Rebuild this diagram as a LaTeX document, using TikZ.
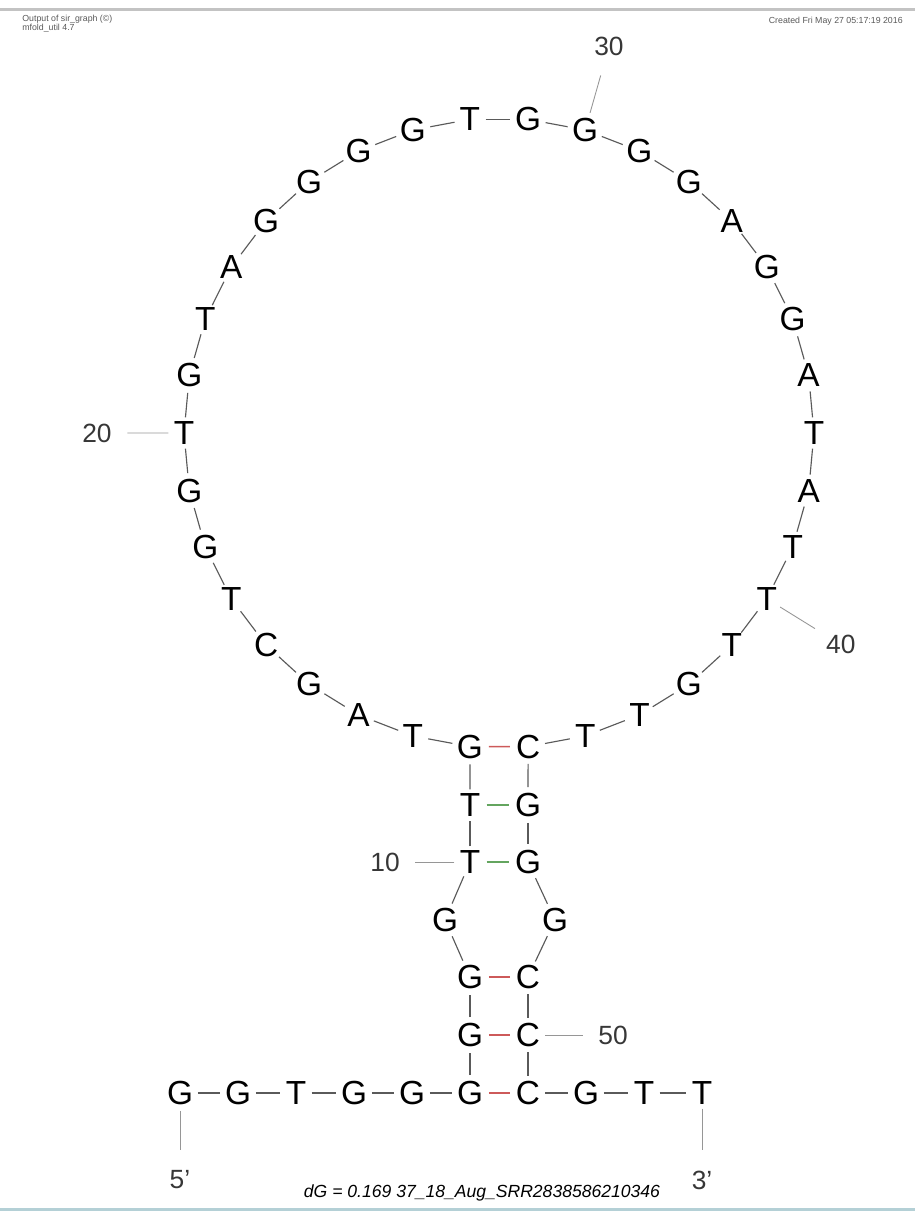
\documentclass[tikz,border=0pt]{standalone}
\usepackage{fontspec}
\setmainfont{Liberation Sans}
\definecolor{bbgray}{RGB}{90,90,90}
\definecolor{tickgray}{RGB}{150,150,150}
\definecolor{numgray}{RGB}{55,55,55}
\definecolor{gcred}{RGB}{205,90,90}
\definecolor{gtgreen}{RGB}{100,165,95}
\definecolor{barcol}{RGB}{195,195,195}
\definecolor{linecol}{RGB}{180,208,214}
\begin{document}
\begin{tikzpicture}[x=0.02cm, y=-0.02cm,
        base/.style={circle, inner sep=0pt, minimum size=0.6cm, font=\fontsize{19}{19}\selectfont},
        numlab/.style={circle, inner sep=0pt, minimum size=1.2cm, text=numgray, font=\fontsize{15}{15}\selectfont},
        hdr/.style={inner sep=0pt, text=black!65, font=\fontsize{5}{5}\selectfont},
        backbone/.style={draw=bbgray, line width=0.65pt},
        gcpair/.style={draw=gcred, line width=0.9pt, shorten <=0.02cm, shorten >=0.02cm},
        gtpair/.style={draw=gtgreen, line width=0.9pt, shorten <=0.02cm, shorten >=0.02cm},
        tick/.style={draw=tickgray, line width=0.5pt}
    ]
        \useasboundingbox (0,0) rectangle (915,1213);
        \fill[barcol] (0,8) rectangle (915,11);
        \fill[linecol] (0,1208) rectangle (915,1211);

        \node[hdr, anchor=west] (hdra) at (22,19.5) {Output of sir\_graph (©)};
        \node[hdr, anchor=west] (hdrb) at (22,28.5) {mfold\_util 4.7};
        \node[hdr, anchor=east] (hdrc) at (903,21) {Created Fri May 27 05:17:19 2016};

        % hairpin loop
        \foreach \b [count=\i from 12] in {G,T,A,G,C,T,G,G,T,G,T,A,G,G,G,G,T,G,G,G,G,A,G,G,A,T,A,T,T,T,G,T,T,C} {
            \pgfmathsetmacro\ang{95.294+(\i-12)*10.588}
            \node[base] (n\i) at ([shift={(499,433)}]\ang:315) {\b};
        }

        % 5' side
        \foreach \b [count=\i] in {G,G,T,G,G}
            \node[base] (n\i) at ({180+58*(\i-1)},1093) {\b};
        \node[base] (n6) at (470,1093) {G};
        \node[base] (n7) at (470,1035) {G};
        \node[base] (n8) at (470,977) {G};
        \node[base] (n9) at (445,920) {G};
        \node[base] (n10) at (470,862) {T};
        \node[base] (n11) at (470,805) {T};

        % 3' side
        \node[base] (n46) at (528,805) {G};
        \node[base] (n47) at (528,862) {G};
        \node[base] (n48) at (555,920) {G};
        \node[base] (n49) at (528,977) {C};
        \node[base] (n50) at (528,1035) {C};
        \node[base] (n51) at (528,1093) {C};
        \node[base] (n52) at (586,1093) {G};
        \node[base] (n53) at (644,1093) {T};
        \node[base] (n54) at (702,1093) {T};

        \foreach \i [evaluate=\i as \j using int(\i+1)] in {1,...,53}
            \draw[backbone] (n\i) -- (n\j);

        \foreach \a/\c in {6/51,7/50,8/49,12/45}
            \draw[gcpair] (n\a) -- (n\c);
        \foreach \a/\c in {10/47,11/46}
            \draw[gtpair] (n\a) -- (n\c);

        % numbering
        \node[numlab] (l10) at (385,862) {10};
        \node[numlab] (l20) at ([shift={(499,433)}]180:402) {20};
        \node[numlab] (l30) at ([shift={(499,433)}]285.878:402) {30};
        \node[numlab] (l40) at ([shift={(499,433)}]31.76:402) {40};
        \node[numlab] (l50) at (613,1035) {50};
        \node[numlab] (end5) at (180,1180) {5'};
        \node[numlab] (end3) at (702,1180) {3'};
        \foreach \k in {10,20,30,40,50}
            \draw[tick] (n\k) -- (l\k);
        \draw[tick] (n1) -- (end5);
        \draw[tick] (n54) -- (end3);

        \node[font=\itshape\fontsize{10}{10}\selectfont] (dg) at (482,1193) {dG = 0.169 37\_18\_Aug\_SRR2838586210346};
    \end{tikzpicture}
\end{document}
